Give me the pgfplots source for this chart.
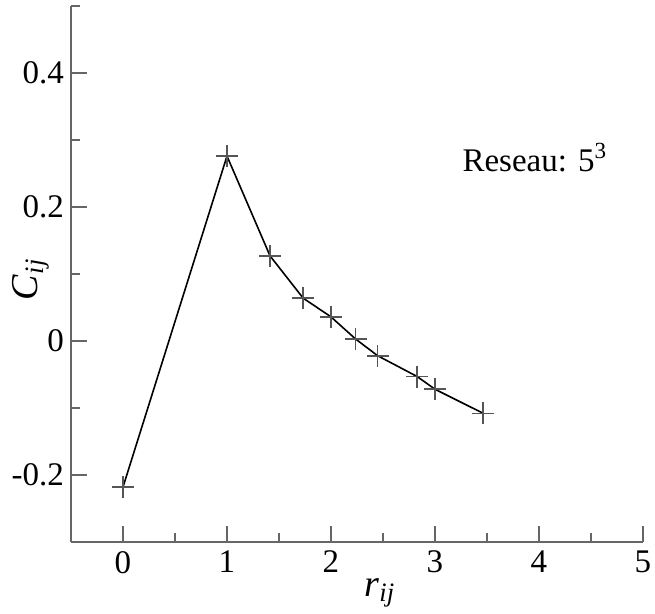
\documentclass[border=0pt]{standalone}
\usepackage{pgfplots}
\pgfplotsset{compat=1.18}
\usepackage{fontspec}
\setmainfont{Liberation Serif}
\definecolor{axgray}{HTML}{666666}
\definecolor{markgray}{HTML}{555555}

\begin{document}
\begin{tikzpicture}
\useasboundingbox (-35.5pt,-36pt) rectangle (292pt,271pt);
\begin{axis}[
  scale only axis,
  width=286pt, height=268pt,
  xmin=-0.5, xmax=5,
  ymin=-0.3, ymax=0.5,
  axis x line*=bottom,
  axis y line*=left,
  axis line style={-, axgray, line width=0.8pt},
  xtick={0,1,2,3,4,5},
  xticklabels={0,1,2,3,4,5},
  minor xtick={-0.5,0.5,1.5,2.5,3.5,4.5},
  ytick={-0.2,0,0.2,0.4},
  yticklabels={-0.2,0,0.2,0.4},
  minor ytick={-0.3,-0.1,0.1,0.3,0.5},
  tick align=inside,
  major tick length=8pt,
  minor tick length=4.5pt,
  every tick/.style={axgray, line width=0.8pt},
  tick label style={font=\fontsize{16.5}{19}\selectfont},
  xticklabel style={yshift=-1pt},
  yticklabel style={xshift=0pt},
  xlabel={\textit{r}\textsubscript{\textit{ij}}},
  ylabel={\textit{C}\textsubscript{\textit{ij}}},
  label style={font=\fontsize{19}{22}\selectfont},
  xlabel style={at={(axis description cs:0.54,-0.095)}, anchor=center},
  ylabel style={at={(axis description cs:-0.07,0.49)}, anchor=center},
  clip=false,
]
\addplot[black, line width=0.8pt, mark=+, mark size=5.5pt,
  mark options={markgray, line width=0.8pt}] coordinates {
  (0,-0.218)
  (1,0.276)
  (1.414,0.127)
  (1.732,0.064)
  (2,0.036)
  (2.236,0.003)
  (2.449,-0.022)
  (2.828,-0.053)
  (3,-0.072)
  (3.464,-0.108)
};
\node[font=\fontsize{16.5}{19}\selectfont] at (axis cs:3.96,0.274) {Reseau: 5\textsuperscript{3}};
\end{axis}
\end{tikzpicture}
\end{document}
